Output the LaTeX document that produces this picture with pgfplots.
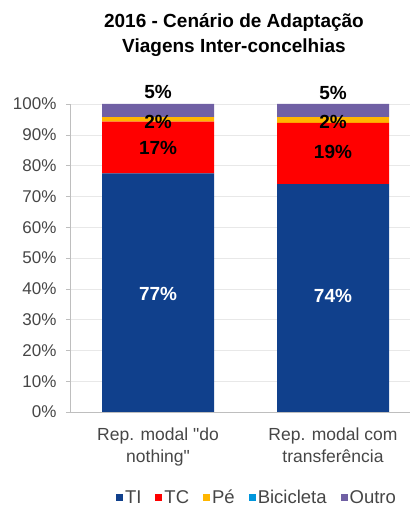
\documentclass[border=0pt]{standalone}
\usepackage{pgfplots}
\pgfplotsset{compat=1.18}
\usepackage{fontspec}
\setmainfont{Liberation Sans}
\newfontfamily\plainfont{Liberation Sans}
\definecolor{cTI}{RGB}{16,64,140}
\definecolor{cTC}{RGB}{255,0,0}
\definecolor{cPe}{RGB}{255,182,0}
\definecolor{cBic}{RGB}{0,150,220}
\definecolor{cOut}{RGB}{112,96,164}
\definecolor{tickgray}{RGB}{70,70,70}
\definecolor{axisgray}{RGB}{190,190,190}
\definecolor{gridgray}{RGB}{232,232,232}
\begin{document}
\begin{tikzpicture}
\useasboundingbox (0,0) rectangle (410pt,507pt);
\node[font=\bfseries\fontsize{19}{25}\selectfont, align=center, anchor=north, inner sep=0pt] at (234pt,494pt) {2016 - Cenário de Adaptação\\Viagens Inter-concelhias};
\begin{axis}[
  at={(70pt,95pt)}, anchor=south west,
  scale only axis, width=340pt, height=308pt,
  ybar stacked, bar width=0.64,
  xmin=-0.503, xmax=1.44, ymin=0, ymax=100,
  clip=false,
  axis x line*=bottom, axis y line*=left,
  axis line style={draw=axisgray, -},
  xtick={0,1},
  xticklabels={{Rep. modal {\plainfont "}do\\nothing{\plainfont "}},{Rep. modal com\\transferência}},
  xticklabel style={align=center, font=\fontsize{17.5}{22}\selectfont, text=tickgray, yshift=-8pt},
  xtick style={draw=none},
  ytick={0,10,...,100},
  yticklabel={\pgfmathprintnumber{\tick}\%},
  /pgf/number format/assume math mode=true,
  yticklabel style={font=\fontsize{17}{20}\selectfont, text=tickgray, xshift=-6pt},
  ytick style={draw=axisgray},
  tick align=outside, major tick length=4pt,
  ymajorgrids, grid style={draw=gridgray},
  legend style={at={(0.55,-0.279)}, anchor=center, draw=none, fill=none,
    legend columns=5, font=\fontsize{18.5}{20}\selectfont, text=tickgray,
    /tikz/every even column/.append style={column sep=12pt}},
  legend image code/.code={\path[#1,draw=none] (0pt,-3.5pt) rectangle (7pt,3.5pt);},
]
\addplot[fill=cTI, draw=none] coordinates {(0,77.5) (1,74.0)};
\addplot[fill=cTC, draw=none] coordinates {(0,16.8) (1,19.9)};
\addplot[fill=cPe, draw=none] coordinates {(0,1.4) (1,1.8)};
\addplot[fill=cBic, draw=none] coordinates {(0,0) (1,0)};
\addplot[fill=cOut, draw=none] coordinates {(0,4.3) (1,4.3)};
\legend{TI,TC,Pé,Bicicleta,Outro}
\coordinate (a1) at (axis cs:0,38.2);
\coordinate (a2) at (axis cs:1,37.7);
\coordinate (b1) at (axis cs:0,85.7);
\coordinate (b2) at (axis cs:1,84.4);
\coordinate (c1) at (axis cs:0,94.2);
\coordinate (c2) at (axis cs:1,94.3);
\coordinate (d1) at (axis cs:0,103.9);
\coordinate (d2) at (axis cs:1,103.7);
\end{axis}
\begin{scope}[every node/.style={font=\bfseries\fontsize{19}{20}\selectfont}]
\node[text=white] at (a1) {77\%};
\node[text=white] at (a2) {74\%};
\node at (b1) {17\%};
\node at (b2) {19\%};
\node at (c1) {2\%};
\node at (c2) {2\%};
\node at (d1) {5\%};
\node at (d2) {5\%};
\end{scope}
\end{tikzpicture}
\end{document}
